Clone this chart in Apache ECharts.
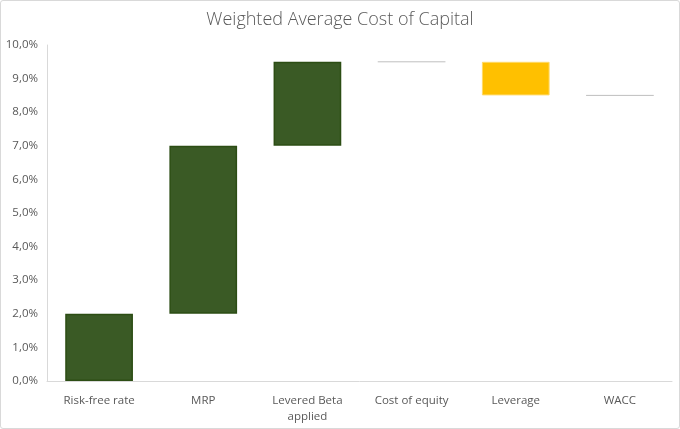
<!DOCTYPE html>
<html><head><meta charset="utf-8">
<script src="https://cdn.jsdelivr.net/npm/echarts@6/dist/echarts.min.js"></script>
<style>
html,body{margin:0;padding:0;background:#fff;}
#frame{position:absolute;left:0;top:0;width:680px;height:429px;box-sizing:border-box;border:1px solid #d9d9d9;border-radius:3px;}
#c{position:absolute;left:0;top:0;width:680px;height:429px;}
</style></head>
<body><div id="frame"></div><div id="c"></div>
<script>
const categories = ['Risk-free rate', 'MRP', 'Levered Beta\napplied', 'Cost of equity', 'Leverage', 'WACC'];
const startValues = [0, 2.0, 7.0, 0, 9.5, 0];
const endValues   = [2.0, 7.0, 9.5, 9.5, 8.5, 8.5];
const isTotal     = [false, false, false, true, false, true];
const yTicks = [0,1,2,3,4,5,6,7,8,9,10];

const baseData = [], deltaData = [], totalData = [];
categories.forEach((c, i) => {
  if (isTotal[i]) {
    baseData.push('-'); deltaData.push('-');
    totalData.push([i, endValues[i]]);
  } else {
    const lo = Math.min(startValues[i], endValues[i]);
    const hi = Math.max(startValues[i], endValues[i]);
    baseData.push(lo);
    const up = endValues[i] >= startValues[i];
    deltaData.push({
      value: hi - lo,
      itemStyle: up ? {color: '#3a5a25', borderColor: '#2c4d14', borderWidth: 1.5}
                    : {color: '#ffc000', borderColor: '#ffd966', borderWidth: 1}
    });
  }
});

const chart = echarts.init(document.getElementById('c'), null, {renderer: 'canvas'});
const lbl = {color: '#595959', fontSize: 11.5, fontFamily: 'Open Sans, sans-serif'};
chart.setOption({
  animation: false,
  title: {text: 'Weighted Average Cost of Capital', left: 'center', top: 6,
    textStyle: {color: '#595959', fontSize: 18, fontWeight: 300, fontFamily: 'Open Sans, sans-serif'}},
  grid: {left: 47, right: 8, top: 45, bottom: 48},
  xAxis: {type: 'category', data: categories,
    axisLine: {lineStyle: {color: '#d9d9d9', width: 1}}, axisTick: {show: false},
    axisLabel: Object.assign({margin: 12, lineHeight: 16, interval: 0}, lbl)},
  yAxis: {type: 'value', min: 0, max: 10, interval: 1,
    axisLine: {show: true, lineStyle: {color: '#d9d9d9'}}, axisTick: {show: false}, splitLine: {show: false},
    axisLabel: Object.assign({margin: 9, formatter: v => v.toFixed(1).replace('.', ',') + '%'}, lbl)},
  series: [
    {type: 'bar', stack: 'w', data: baseData, barWidth: '65%', itemStyle: {color: 'transparent'}, silent: true},
    {type: 'bar', stack: 'w', data: deltaData, barWidth: '65%'},
    {type: 'custom', data: totalData, renderItem: function (params, api) {
      const p = api.coord([api.value(0), api.value(1)]);
      const w = api.size([1, 0])[0] * 0.65;
      return {type: 'line', shape: {x1: p[0] - w / 2, y1: p[1], x2: p[0] + w / 2, y2: p[1]},
        style: {stroke: '#bfbfbf', lineWidth: 1}};
    }}
  ]
});
</script></body></html>
